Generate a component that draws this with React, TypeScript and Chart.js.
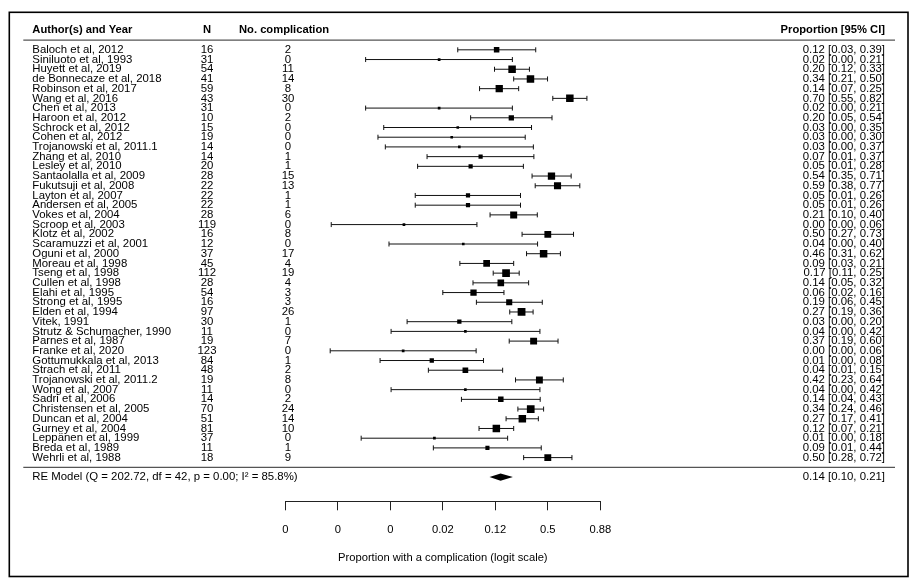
import React, { useEffect, useRef } from "react";
import { Chart, registerables } from "chart.js";

Chart.register(...registerables);

const FONT = '"Liberation Sans", Arial, Helvetica, sans-serif';

const authors = [
  "Baloch et al, 2012", "Siniluoto et al, 1993", "Huyett et al, 2019", "de Bonnecaze et al, 2018",
  "Robinson et al, 2017", "Wang et al, 2016", "Chen et al, 2013", "Haroon et al, 2012",
  "Schrock et al, 2012", "Cohen et al, 2012", "Trojanowski et al, 2011.1", "Zhang et al, 2010",
  "Lesley et al, 2010", "Santaolalla et al, 2009", "Fukutsuji et al, 2008", "Layton et al, 2007",
  "Andersen et al, 2005", "Vokes et al, 2004", "Scroop et al, 2003", "Klotz et al, 2002",
  "Scaramuzzi et al, 2001", "Oguni et al, 2000", "Moreau et al, 1998", "Tseng et al, 1998",
  "Cullen et al, 1998", "Elahi et al, 1995", "Strong et al, 1995", "Elden et al, 1994",
  "Vitek, 1991", "Strutz & Schumacher, 1990", "Parnes et al, 1987", "Franke et al, 2020",
  "Gottumukkala et al, 2013", "Strach et al, 2011", "Trojanowski et al, 2011.2", "Wong et al, 2007",
  "Sadri et al, 2006", "Christensen et al, 2005", "Duncan et al, 2004", "Gurney et al, 2004",
  "Leppänen et al, 1999", "Breda et al, 1989", "Wehrli et al, 1988",
];

const nTotal = [
  16, 31, 54, 41, 59, 43, 31, 10, 15, 19, 14, 14, 20, 28, 22, 22, 22, 28, 119, 16, 12, 37,
  45, 112, 28, 54, 16, 97, 30, 11, 19, 123, 84, 48, 19, 11, 14, 70, 51, 81, 37, 11, 18,
];

const nEvents = [
  2, 0, 11, 14, 8, 30, 0, 2, 0, 0, 0, 1, 1, 15, 13, 1, 1, 6, 0, 8, 0, 17,
  4, 19, 4, 3, 3, 26, 1, 0, 7, 0, 1, 2, 8, 0, 2, 24, 14, 10, 0, 1, 9,
];

// logit-scale estimates and 95% CI
const logitEst = [
  -1.95, -4.14, -1.36, -0.66, -1.85, 0.84, -4.14, -1.39, -3.43, -3.66, -3.37, -2.56, -2.94, 0.14,
  0.37, -3.04, -3.04, -1.30, -5.48, 0.0, -3.22, -0.16, -2.33, -1.59, -1.79, -2.83, -1.47, -1.0,
  -3.37, -3.14, -0.54, -5.51, -4.42, -3.14, -0.32, -3.14, -1.79, -0.65, -0.97, -1.96, -4.32, -2.30, 0.0,
];
const logitLow = [
  -3.43, -6.94, -2.03, -1.30, -2.60, 0.19, -6.94, -2.94, -6.25, -6.47, -6.19, -4.60, -4.96, -0.60,
  -0.48, -5.05, -5.05, -2.20, -8.25, -0.98, -6.05, -0.81, -3.35, -2.08, -2.85, -4.0, -2.72, -1.45,
  -5.36, -5.97, -1.47, -8.29, -6.39, -4.55, -1.23, -5.97, -3.29, -1.14, -1.59, -2.62, -7.11, -4.36, -0.92,
];
const logitHigh = [
  -0.46, -1.35, -0.70, -0.01, -1.11, 1.49, -1.35, 0.16, -0.62, -0.86, -0.55, -0.53, -0.93, 0.89,
  1.22, -1.04, -1.04, -0.40, -2.70, 0.98, -0.39, 0.48, -1.30, -1.09, -0.73, -1.67, -0.21, -0.56,
  -1.37, -0.30, 0.39, -2.73, -2.45, -1.72, 0.59, -0.30, -0.29, -0.16, -0.36, -1.30, -1.53, -0.25, 0.92,
];

// back-transformed proportions shown in the right column
const propEst = [
  0.12, 0.02, 0.20, 0.34, 0.14, 0.70, 0.02, 0.20, 0.03, 0.03, 0.03, 0.07, 0.05, 0.54, 0.59, 0.05,
  0.05, 0.21, 0.00, 0.50, 0.04, 0.46, 0.09, 0.17, 0.14, 0.06, 0.19, 0.27, 0.03, 0.04, 0.37, 0.00,
  0.01, 0.04, 0.42, 0.04, 0.14, 0.34, 0.27, 0.12, 0.01, 0.09, 0.50,
];
const propLow = [
  0.03, 0.00, 0.12, 0.21, 0.07, 0.55, 0.00, 0.05, 0.00, 0.00, 0.00, 0.01, 0.01, 0.35, 0.38, 0.01,
  0.01, 0.10, 0.00, 0.27, 0.00, 0.31, 0.03, 0.11, 0.05, 0.02, 0.06, 0.19, 0.00, 0.00, 0.19, 0.00,
  0.00, 0.01, 0.23, 0.00, 0.04, 0.24, 0.17, 0.07, 0.00, 0.01, 0.28,
];
const propHigh = [
  0.39, 0.21, 0.33, 0.50, 0.25, 0.82, 0.21, 0.54, 0.35, 0.30, 0.37, 0.37, 0.28, 0.71, 0.77, 0.26,
  0.26, 0.40, 0.06, 0.73, 0.40, 0.62, 0.21, 0.25, 0.32, 0.16, 0.45, 0.36, 0.20, 0.42, 0.60, 0.06,
  0.08, 0.15, 0.64, 0.42, 0.43, 0.46, 0.41, 0.21, 0.18, 0.44, 0.72,
];

// square side (px) of each study marker
const markerSide = [
  5.5, 2.7, 7.5, 7.5, 7.3, 7.5, 2.7, 5.3, 2.6, 2.6, 2.6, 4.2, 4.2, 7.3, 7.1, 4.2, 4.2, 7.0, 2.7,
  6.8, 2.6, 7.5, 6.7, 7.7, 6.6, 6.3, 6.1, 7.8, 4.3, 2.6, 6.9, 2.7, 4.3, 5.7, 6.9, 2.6, 5.5, 7.7,
  7.5, 7.5, 2.7, 4.1, 6.9,
];

const summaryLabel = "RE Model (Q = 202.72, df = 42, p = 0.00; I\u00B2 = 85.8%)";
const summaryLogit = [-2.22, -1.8, -1.33]; // low, est, high
const summaryProp = [0.1, 0.14, 0.21]; // low, est, high

const tickValues = [-10, -8, -6, -4, -2, 0, 2];
const tickLabels = ["0", "0", "0", "0.02", "0.12", "0.5", "0.88"];
const axisTitle = "Proportion with a complication (logit scale)";

const headers = ["Author(s) and Year", "N", "No. complication", "Proportion [95% CI]"];

const fmt = (v: number) => v.toFixed(2);

const forestPlugin = {
  id: "forestDecor",
  beforeDatasetsDraw(chart: any) {
    const { ctx, scales } = chart;
    const x = scales.x;
    const y = scales.y;
    ctx.save();
    ctx.strokeStyle = "#111";
    ctx.lineWidth = 1;
    for (let i = 0; i < logitEst.length; i++) {
      const py = y.getPixelForValue(i);
      const x1 = x.getPixelForValue(logitLow[i]);
      const x2 = x.getPixelForValue(logitHigh[i]);
      ctx.beginPath();
      ctx.moveTo(x1, py);
      ctx.lineTo(x2, py);
      ctx.moveTo(x1, py - 2.5);
      ctx.lineTo(x1, py + 2.5);
      ctx.moveTo(x2, py - 2.5);
      ctx.lineTo(x2, py + 2.5);
      ctx.stroke();
    }
    // summary diamond
    const dy = y.getPixelForValue(44);
    const lo = x.getPixelForValue(summaryLogit[0]);
    const es = x.getPixelForValue(summaryLogit[1]);
    const hi = x.getPixelForValue(summaryLogit[2]);
    ctx.fillStyle = "#000";
    ctx.beginPath();
    ctx.moveTo(lo, dy);
    ctx.lineTo(es, dy - 3.6);
    ctx.lineTo(hi, dy);
    ctx.lineTo(es, dy + 3.6);
    ctx.closePath();
    ctx.fill();
    ctx.restore();
  },
  afterDraw(chart: any) {
    const { ctx, scales } = chart;
    const y = scales.y;
    ctx.save();
    ctx.fillStyle = "#000";
    ctx.textBaseline = "middle";

    // header
    const hy = y.getPixelForValue(-2);
    ctx.font = `bold 11.2px ${FONT}`;
    ctx.textAlign = "left";
    ctx.fillText(headers[0], 32.3, hy);
    ctx.textAlign = "center";
    ctx.fillText(headers[1], 207, hy);
    ctx.textAlign = "left";
    ctx.fillText(headers[2], 239, hy);
    ctx.textAlign = "right";
    ctx.fillText(headers[3], 885, hy);

    // rows
    ctx.font = `11.4px ${FONT}`;
    for (let i = 0; i < authors.length; i++) {
      const py = y.getPixelForValue(i);
      ctx.textAlign = "left";
      ctx.fillText(authors[i], 32.3, py);
      ctx.textAlign = "center";
      ctx.fillText(String(nTotal[i]), 207, py);
      ctx.fillText(String(nEvents[i]), 288, py);
      ctx.textAlign = "right";
      ctx.fillText(`${fmt(propEst[i])} [${fmt(propLow[i])}, ${fmt(propHigh[i])}]`, 885, py);
    }

    // summary row
    const sy = y.getPixelForValue(44);
    ctx.textAlign = "left";
    ctx.fillText(summaryLabel, 32.3, sy);
    ctx.textAlign = "right";
    ctx.fillText(`${fmt(summaryProp[1])} [${fmt(summaryProp[0])}, ${fmt(summaryProp[2])}]`, 885, sy);

    // separator lines
    ctx.strokeStyle = "#555";
    ctx.lineWidth = 1.3;
    for (const row of [-1, 43]) {
      const ly = y.getPixelForValue(row);
      ctx.beginPath();
      ctx.moveTo(23.3, ly);
      ctx.lineTo(895, ly);
      ctx.stroke();
    }

    // outer frame
    ctx.strokeStyle = "#000";
    ctx.lineWidth = 1.6;
    ctx.strokeRect(9.3, 12.3, 898.7, 564.2);
    ctx.restore();
  },
};

export default function App() {
  const canvasRef = useRef<HTMLCanvasElement | null>(null);

  useEffect(() => {
    if (!canvasRef.current) return;
    Chart.defaults.font.family = FONT;
    const chart = new Chart(canvasRef.current, {
      type: "scatter",
      data: {
        datasets: [
          {
            data: logitEst.map((v, i) => ({ x: v, y: i })),
            pointStyle: "rect",
            pointRadius: markerSide.map((s) => s / Math.SQRT2),
            pointHoverRadius: markerSide.map((s) => s / Math.SQRT2),
            backgroundColor: "#000",
            borderColor: "#000",
            borderWidth: 0,
          },
        ],
      },
      options: {
        animation: false,
        responsive: false,
        events: [],
        layout: { padding: { left: 285.3, right: 317.7, top: 20.7, bottom: 0 } },
        plugins: { legend: { display: false }, tooltip: { enabled: false } },
        scales: {
          x: {
            type: "linear",
            position: "bottom",
            min: -10,
            max: 2,
            afterBuildTicks: (scale: any) => {
              scale.ticks = tickValues.map((v) => ({ value: v }));
            },
            afterFit: (scale: any) => {
              scale.height = 82.7;
            },
            ticks: {
              autoSkip: false,
              maxRotation: 0,
              padding: 13,
              color: "#000",
              font: { family: FONT, size: 11.2 },
              callback: (_v: any, i: number) => tickLabels[i],
            },
            grid: { drawOnChartArea: false, drawTicks: true, tickLength: 9, color: "#222", lineWidth: 1 },
            border: { display: true, color: "#222", width: 1 },
            title: {
              display: true,
              text: axisTitle,
              color: "#000",
              font: { family: FONT, size: 11.2 },
              padding: { top: 0, bottom: 19 },
            },
          },
          y: { type: "linear", display: false, reverse: true, min: -3, max: 46.5 },
        },
      },
      plugins: [forestPlugin],
    } as any);
    return () => chart.destroy();
  }, []);

  return (
    <div style={{ position: "absolute", left: 0, top: 0, width: 918, height: 584, background: "#fff" }}>
      <canvas ref={canvasRef} width={918} height={584} style={{ width: 918, height: 584, display: "block" }} />
    </div>
  );
}
